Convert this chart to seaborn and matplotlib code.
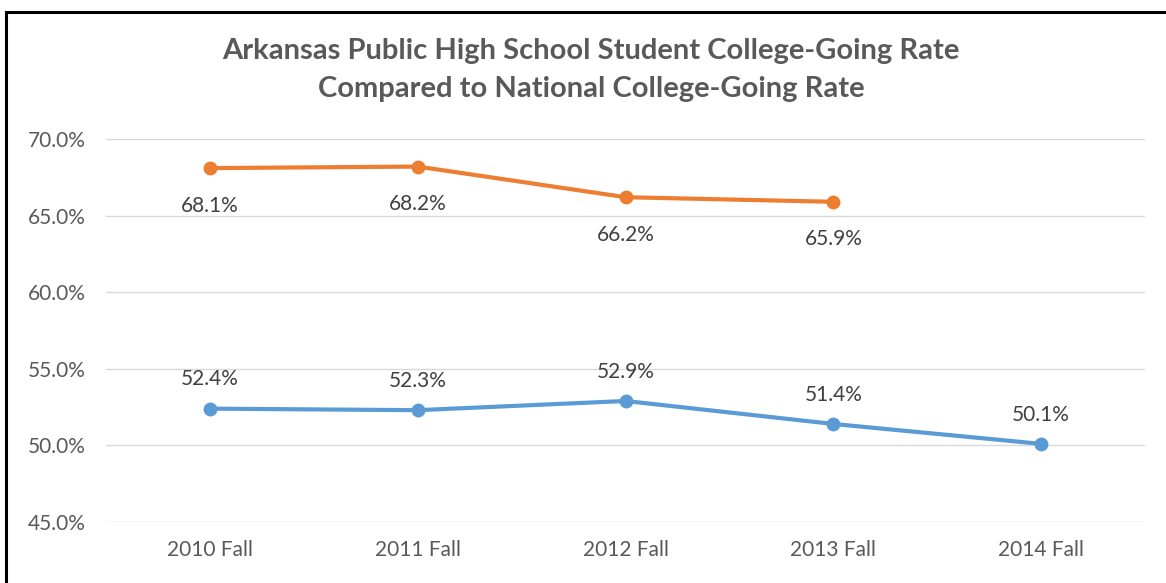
import pandas as pd
import seaborn as sns
import matplotlib.pyplot as plt
from matplotlib.patches import Rectangle

terms = ['2010 Fall', '2011 Fall', '2012 Fall', '2013 Fall', '2014 Fall']
national = [68.1, 68.2, 66.2, 65.9]
arkansas = [52.4, 52.3, 52.9, 51.4, 50.1]

df = pd.concat([
    pd.DataFrame({'term': terms[:len(national)], 'rate': national, 'series': 'National'}),
    pd.DataFrame({'term': terms, 'rate': arkansas, 'series': 'Arkansas'}),
])

sns.set_theme(style='white')
plt.rcParams['font.family'] = ['Lato', 'DejaVu Sans']

fig = plt.figure(figsize=(11.66, 5.83), dpi=100)
ax = fig.add_axes([0.091, 0.1046, 0.891, 0.657])

colors = {'National': '#ED7D31', 'Arkansas': '#5B9BD5'}
sns.lineplot(data=df, x='term', y='rate', hue='series', palette=colors,
             marker='o', markersize=10, markeredgewidth=0, linewidth=3,
             legend=False, ax=ax, sort=False)

# data labels: national below, arkansas above
for t, v in zip(terms, national):
    ax.annotate(f'{v:.1f}%', (t, v), xytext=(0, -27), textcoords='offset points',
                ha='center', va='center', fontsize=15, color='#404040')
for t, v in zip(terms, arkansas):
    ax.annotate(f'{v:.1f}%', (t, v), xytext=(0, 21), textcoords='offset points',
                ha='center', va='center', fontsize=15, color='#404040')

ax.set_ylim(45, 70)
ax.set_yticks([45, 50, 55, 60, 65, 70])
ax.set_yticklabels([f'{v:.1f}%' for v in [45, 50, 55, 60, 65, 70]])
ax.set_xlim(-0.5, 4.5)
ax.grid(axis='y', color='#d9d9d9', linewidth=1)
ax.set_axisbelow(True)
for s in ax.spines.values():
    s.set_visible(False)
ax.tick_params(axis='both', length=0, labelsize=15, labelcolor='#595959')
ax.tick_params(axis='y', pad=15)
ax.tick_params(axis='x', pad=13)
ax.set_xlabel('')
ax.set_ylabel('')

fig.text(0.507, 0.913, 'Arkansas Public High School Student College-Going Rate',
         ha='center', va='center', fontsize=21, fontweight='bold', color='#595959')
fig.text(0.507, 0.848, 'Compared to National College-Going Rate',
         ha='center', va='center', fontsize=21, fontweight='bold', color='#595959')

# outer border
fig.add_artist(Rectangle((0.005, -0.01), 1.0, 1.0 - 0.0103, transform=fig.transFigure,
                         fill=False, edgecolor='black', linewidth=2.2))

fig.savefig('out.png', dpi=100)
